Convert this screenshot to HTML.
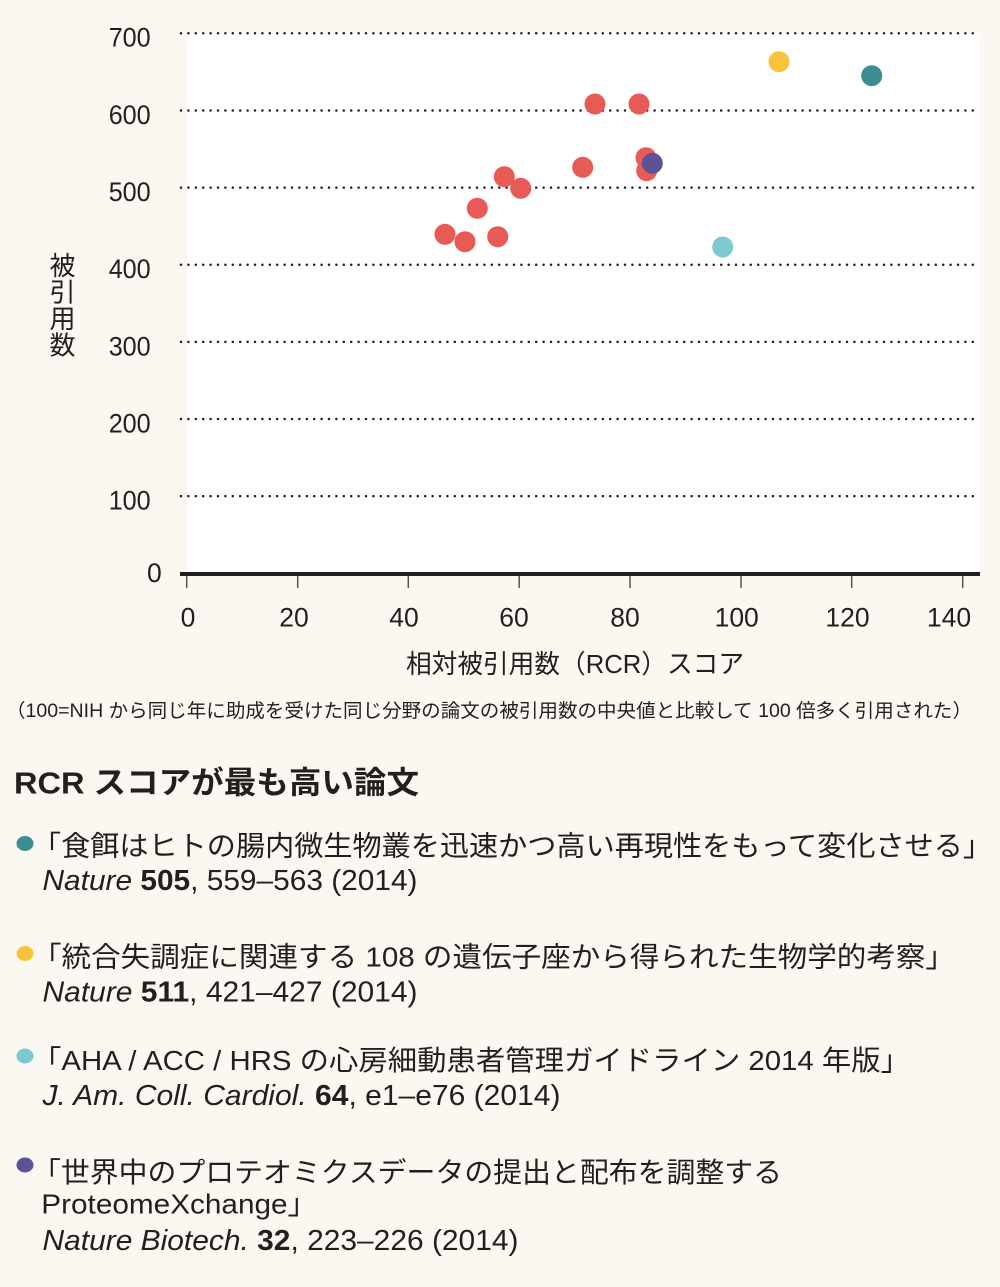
<!DOCTYPE html>
<html>
<head>
<meta charset="utf-8">
<style>
  html,body{margin:0;padding:0;background:#fbf8f1;}
  svg{display:block;}
  .num{font-family:"Liberation Sans",sans-serif;fill:#231f20;}
  .jp{font-family:"Liberation Sans","Noto Sans CJK JP",sans-serif;fill:#231f20;}
</style>
</head>
<body>
<svg width="1000" height="1287" viewBox="0 0 1000 1287" xmlns="http://www.w3.org/2000/svg">
  <rect x="0" y="0" width="1000" height="1287" fill="#fbf8f1"/>
  <!-- plot area -->
  <rect x="187" y="33" width="793" height="541" fill="#ffffff"/>

  <!-- gridlines -->
  <g stroke="#231f20" stroke-width="2.5" stroke-linecap="round" stroke-dasharray="0 7.4" fill="none">
    <line x1="181" y1="33.3" x2="980" y2="33.3"/>
    <line x1="181" y1="110.5" x2="980" y2="110.5"/>
    <line x1="181" y1="187.6" x2="980" y2="187.6"/>
    <line x1="181" y1="264.7" x2="980" y2="264.7"/>
    <line x1="181" y1="341.9" x2="980" y2="341.9"/>
    <line x1="181" y1="419" x2="980" y2="419"/>
    <line x1="181" y1="496.1" x2="980" y2="496.1"/>
  </g>

  <!-- y tick labels -->
  <g class="num" font-size="26.5" text-anchor="end">
    <text x="150.7" y="46.7" textLength="42" lengthAdjust="spacingAndGlyphs">700</text>
    <text x="150.7" y="123.9" textLength="42" lengthAdjust="spacingAndGlyphs">600</text>
    <text x="150.7" y="201" textLength="42" lengthAdjust="spacingAndGlyphs">500</text>
    <text x="150.7" y="278.1" textLength="42" lengthAdjust="spacingAndGlyphs">400</text>
    <text x="150.7" y="355.3" textLength="42" lengthAdjust="spacingAndGlyphs">300</text>
    <text x="150.7" y="432.4" textLength="42" lengthAdjust="spacingAndGlyphs">200</text>
    <text x="150.7" y="509.5" textLength="42" lengthAdjust="spacingAndGlyphs">100</text>
    <text x="161.7" y="582">0</text>
  </g>

  <!-- y axis title -->
  <g class="jp" font-size="26" text-anchor="middle">
    <text x="62.5" y="275">被</text>
    <text x="62.5" y="301.5">引</text>
    <text x="62.5" y="328">用</text>
    <text x="62.5" y="354.5">数</text>
  </g>

  <!-- x axis -->
  <line x1="180" y1="574" x2="980" y2="574" stroke="#231f20" stroke-width="4"/>
  <g stroke="#555" stroke-width="1.5">
    <line x1="186.7" y1="576" x2="186.7" y2="588"/>
    <line x1="297.7" y1="576" x2="297.7" y2="588"/>
    <line x1="408.3" y1="576" x2="408.3" y2="588"/>
    <line x1="519.2" y1="576" x2="519.2" y2="588"/>
    <line x1="630" y1="576" x2="630" y2="588"/>
    <line x1="741" y1="576" x2="741" y2="588"/>
    <line x1="851.7" y1="576" x2="851.7" y2="588"/>
    <line x1="962.7" y1="576" x2="962.7" y2="588"/>
  </g>
  <g class="num" font-size="26.5" text-anchor="middle">
    <text x="188" y="626.7">0</text>
    <text x="294" y="626.7">20</text>
    <text x="404" y="626.7">40</text>
    <text x="514" y="626.7">60</text>
    <text x="625" y="626.7">80</text>
    <text x="736.7" y="626.7">100</text>
    <text x="847.5" y="626.7">120</text>
    <text x="949" y="626.7">140</text>
  </g>

  <!-- x axis title -->
  <text class="jp" x="406" y="673" font-size="26" textLength="338" lengthAdjust="spacingAndGlyphs">相対被引用数（RCR）スコア</text>

  <!-- note -->
  <text class="jp" x="6" y="717" font-size="19" textLength="966" lengthAdjust="spacingAndGlyphs">（100=NIH から同じ年に助成を受けた同じ分野の論文の被引用数の中央値と比較して 100 倍多く引用された）</text>

  <!-- data points -->
  <g fill="#e85a55">
    <circle cx="595" cy="104" r="10.5"/>
    <circle cx="639" cy="104" r="10.5"/>
    <circle cx="646" cy="157.7" r="10.5"/>
    <circle cx="646.7" cy="170.7" r="10.5"/>
    <circle cx="582.7" cy="167.3" r="10.5"/>
    <circle cx="504.3" cy="176.7" r="10.5"/>
    <circle cx="520.7" cy="188.3" r="10.5"/>
    <circle cx="477.3" cy="208.3" r="10.5"/>
    <circle cx="445" cy="234.3" r="10.5"/>
    <circle cx="465" cy="241.7" r="10.5"/>
    <circle cx="497.7" cy="236.7" r="10.5"/>
  </g>
  <circle cx="652.3" cy="163.3" r="10.5" fill="#5b5396"/>
  <circle cx="779" cy="61.7" r="10.5" fill="#f9c23c"/>
  <circle cx="871.7" cy="75.7" r="10.5" fill="#3d8c92"/>
  <circle cx="722.7" cy="247" r="10.5" fill="#7ccad0"/>

  <!-- heading -->
  <text class="jp" x="14" y="793.3" font-size="31" font-weight="bold" textLength="405" lengthAdjust="spacingAndGlyphs">RCR スコアが最も高い論文</text>

  <!-- legend items -->
  <ellipse cx="25" cy="843.5" rx="8.5" ry="7.5" fill="#3d8c92"/>
  <text class="jp" x="32" y="855.6" font-size="28" textLength="960" lengthAdjust="spacingAndGlyphs">「食餌はヒトの腸内微生物叢を迅速かつ高い再現性をもって変化させる」</text>
  <text class="num" x="42.5" y="890" font-size="29" textLength="375" lengthAdjust="spacingAndGlyphs"><tspan font-style="italic">Nature</tspan> <tspan font-weight="bold">505</tspan>, 559–563 (2014)</text>

  <ellipse cx="25" cy="953.5" rx="8.5" ry="7.5" fill="#f9c23c"/>
  <text class="jp" x="32" y="966.5" font-size="28" textLength="923" lengthAdjust="spacingAndGlyphs">「統合失調症に関連する 108 の遺伝子座から得られた生物学的考察」</text>
  <text class="num" x="42.5" y="1001.7" font-size="29" textLength="375" lengthAdjust="spacingAndGlyphs"><tspan font-style="italic">Nature</tspan> <tspan font-weight="bold">511</tspan>, 421–427 (2014)</text>

  <ellipse cx="25" cy="1056" rx="8.5" ry="7.5" fill="#7ccad0"/>
  <text class="jp" x="32" y="1070" font-size="28" textLength="878" lengthAdjust="spacingAndGlyphs">「AHA / ACC / HRS の心房細動患者管理ガイドライン 2014 年版」</text>
  <text class="num" x="42.5" y="1105" font-size="29" textLength="518" lengthAdjust="spacingAndGlyphs"><tspan font-style="italic">J. Am. Coll. Cardiol.</tspan> <tspan font-weight="bold">64</tspan>, e1–e76 (2014)</text>

  <ellipse cx="25" cy="1165" rx="8.5" ry="7.5" fill="#5b5396"/>
  <text class="jp" x="32" y="1182" font-size="28" textLength="750" lengthAdjust="spacingAndGlyphs">「世界中のプロテオミクスデータの提出と配布を調整する</text>
  <text class="jp" x="41.3" y="1213.3" font-size="28" textLength="276" lengthAdjust="spacingAndGlyphs">ProteomeXchange」</text>
  <text class="num" x="42.5" y="1250" font-size="29" textLength="476" lengthAdjust="spacingAndGlyphs"><tspan font-style="italic">Nature Biotech.</tspan> <tspan font-weight="bold">32</tspan>, 223–226 (2014)</text>
</svg>
</body>
</html>
